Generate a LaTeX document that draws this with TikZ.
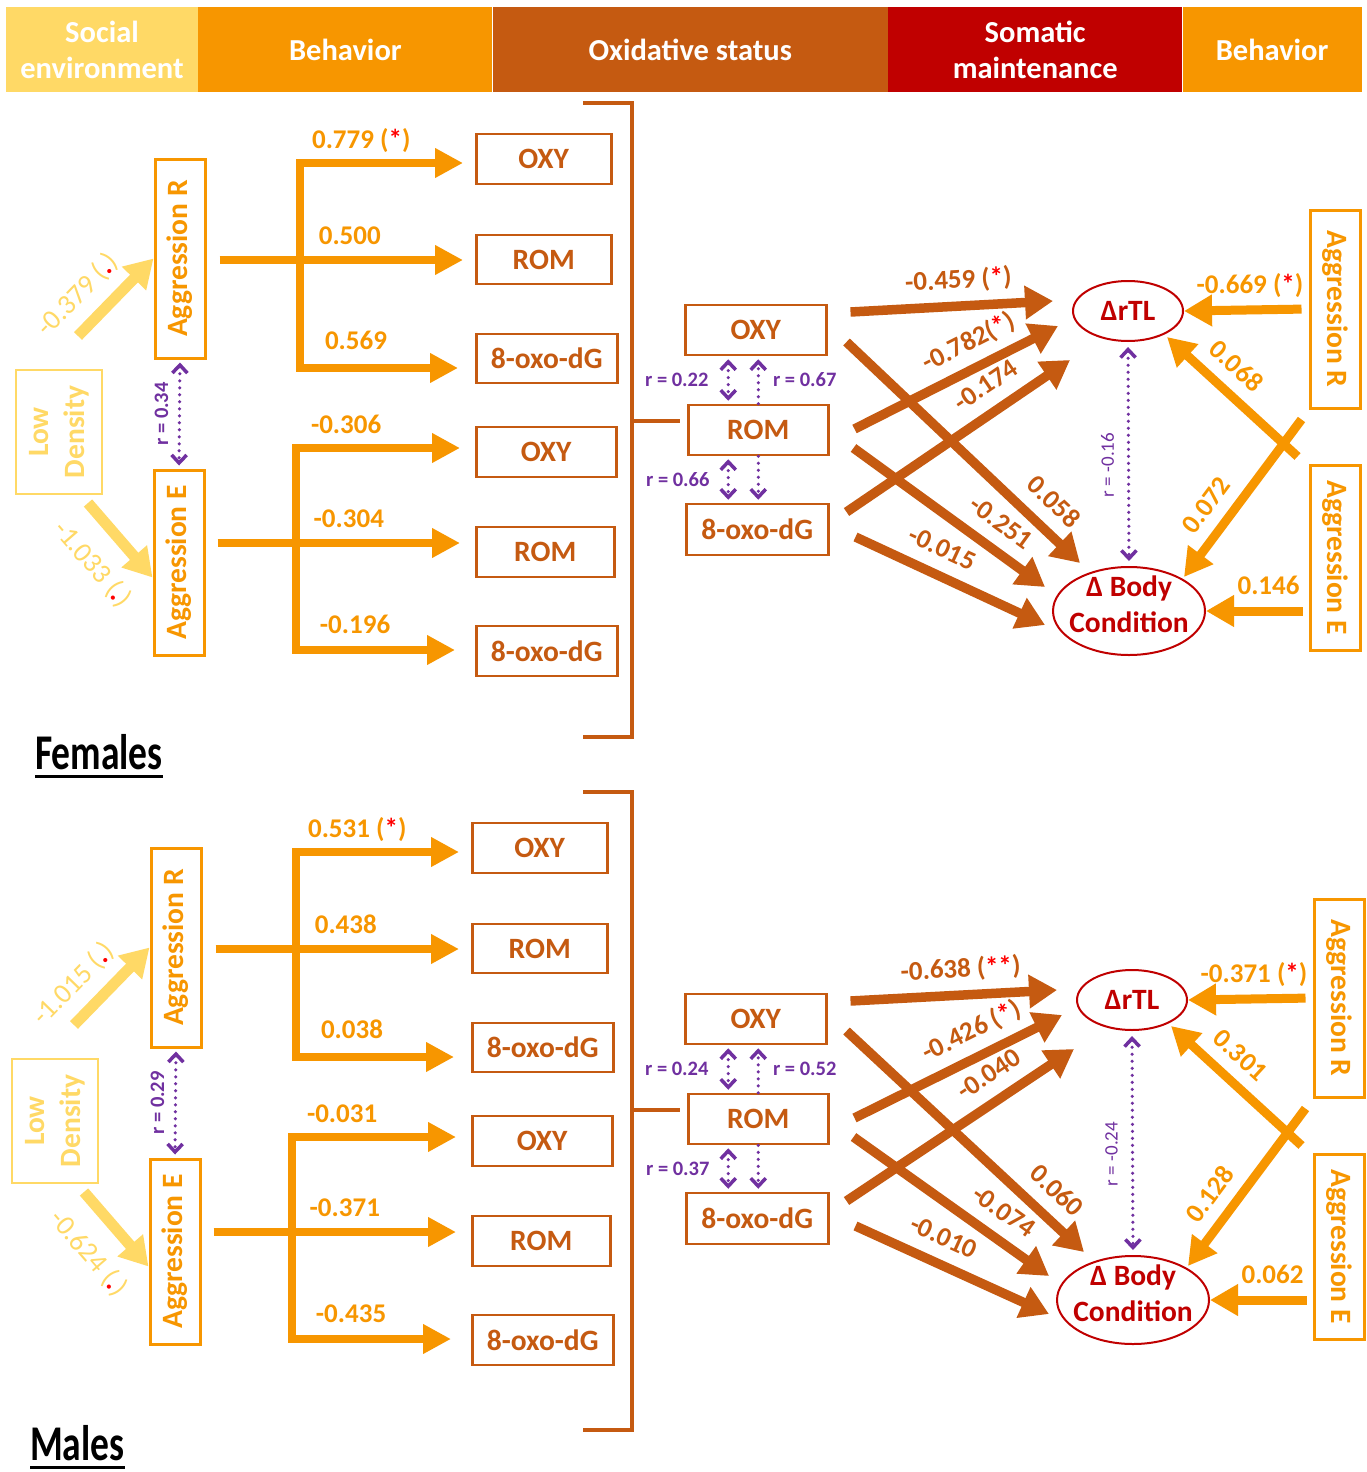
\documentclass[tikz,border=0pt]{standalone}
\usepackage{fontspec}
\setmainfont{Carlito}
\newfontfamily\condfont[FakeStretch=0.75]{Carlito}
\usepackage{graphicx}
\usepackage{tikz}
\usetikzlibrary{arrows.meta, positioning, calc, shapes.geometric}

\definecolor{socyellow}{RGB}{255, 217, 102}
\definecolor{behorange}{RGB}{247, 150, 0}
\definecolor{oxbrown}{RGB}{197, 90, 17}
\definecolor{somred}{RGB}{192, 0, 0}
\definecolor{corpurple}{RGB}{112, 48, 160}
\definecolor{sigred}{RGB}{255, 0, 0}

\newcommand{\hdrfont}{\fontsize{30.5}{36}\selectfont\bfseries}
\newcommand{\boxfont}{\fontsize{29.5}{36}\selectfont\bfseries}
\newcommand{\lblfont}{\fontsize{27}{32}\selectfont\bfseries}
\newcommand{\soclblfont}{\fontsize{28}{32}\selectfont}
\newcommand{\corfont}{\fontsize{20.5}{24}\selectfont\bfseries}
\newcommand{\sigstar}[1]{(\textcolor{sigred}{#1})}
\newcommand{\sigdot}{(\textcolor{sigred}{\textbf{.}})}
\newcommand{\vtext}[2]{\rotatebox{#1}{\begin{tabular}{@{}c@{}}#2\end{tabular}}}

\begin{document}
\begin{tikzpicture}[x=1pt, y=-1pt,
  hdr/.style={rectangle, fill=#1, text=white, font=\hdrfont, align=center, minimum height=85pt, inner sep=0pt},
  lowbox/.style={draw=socyellow, line width=2.5pt, text=socyellow, font=\boxfont, inner sep=0pt},
  behbox/.style={draw=behorange, line width=3pt, text=behorange, font=\boxfont, inner sep=0pt, minimum width=50pt},
  oxbox/.style={draw=oxbrown, line width=2.5pt, text=oxbrown, font=\boxfont, inner sep=0pt, minimum height=50pt, anchor=west, fill=white},
  somell/.style={ellipse, draw=somred, line width=2pt, text=somred, font=\boxfont, align=center, inner sep=0pt, fill=white},
  socarrow/.style={draw=socyellow, line width=11pt, -{Triangle[length=28pt, width=32pt]}},
  beharrow/.style={draw=behorange, line width=8.5pt, -{Triangle[length=28pt, width=28pt]}},
  behbranch/.style={draw=behorange, line width=8.5pt, line join=miter, {Triangle[length=28pt, width=28pt]}-{Triangle[length=28pt, width=28pt]}},
  behrarrow/.style={draw=behorange, line width=9pt, -{Triangle[length=28pt, width=30pt]}},
  oxarrow/.style={draw=oxbrown, line width=9.5pt, -{Triangle[length=28pt, width=32pt]}},
  oxline/.style={draw=oxbrown, line width=3.5pt},
  corline/.style={draw=corpurple, line width=3.5pt, line cap=round, dash pattern=on 0pt off 7pt},
  corarrow/.style={corline, {Straight Barb[length=8pt, width=15pt]}-{Straight Barb[length=8pt, width=15pt]}, shorten <=3pt, shorten >=3pt},
  corhalf/.style={corline, -{Straight Barb[length=8pt, width=15pt]}, shorten >=3pt},
  behlbl/.style={text=behorange, font=\lblfont, inner sep=2pt, text height=18pt, text depth=6pt},
  oxlbl/.style={behlbl, text=oxbrown},
  soclbl/.style={text=socyellow, font=\soclblfont, inner sep=2pt},
  corlbl/.style={text=corpurple, font=\corfont, inner sep=1pt},
  ttl/.style={font=\condfont\bfseries\fontsize{50}{60}\selectfont, inner sep=0pt, anchor=base west}
]
  \path[use as bounding box, fill=white] (0,0) rectangle (1367,1472);

  % Column headers
  \node[hdr=socyellow, minimum width=192pt] (hSoc) at (102,49.5) {Social\\environment};
  \node[hdr=behorange, minimum width=294pt, right=0pt of hSoc] (hBeh) {Behavior};
  \node[hdr=oxbrown, minimum width=395pt, right=0pt of hBeh] (hOx) {Oxidative status};
  \node[hdr=somred, minimum width=294pt, right=0pt of hOx] (hSom) {Somatic\\maintenance};
  \node[hdr=behorange, minimum width=179pt, right=0pt of hSom] (hBeh2) {Behavior};

  %% ================= Females =================
  % Social environment -> aggression
  \node[lowbox, minimum width=86pt, minimum height=124pt] (fLow) at (59,432) {\vtext{90}{Low\\Density}};
  \node[behbox, minimum height=199pt] (fAggR) at (180,258.5) {\vtext{90}{Aggression R}};
  \node[behbox, minimum height=185pt] (fAggE) at (179,562.5) {\vtext{90}{Aggression E}};
  \coordinate (fLowUp) at (78,336);
  \coordinate (fLowDn) at (88,503);
  \draw[socarrow] (fLowUp) -- (fAggR.west) node[soclbl, pos=0.27, sloped, above=9pt] (fLbLR) {-0.379 \sigdot};
  \draw[socarrow] (fLowDn) -- ($(fAggE.west)+(0,15)$) node[soclbl, pos=0.5, sloped, below=17pt] (fLbLE) {-1.033 \sigdot};
  \draw[corarrow] (fAggR.south) -- (fAggE.north);
  \node[corlbl, rotate=90] (fLbAA) at ($(fAggR.south)!0.5!(fAggE.north)+(-18,0)$) {r = 0.34};

  % Oxidative status boxes
  \node[oxbox, minimum width=135pt] (fOXY1) at (475,159) {OXY};
  \node[oxbox, minimum width=135pt, minimum height=49pt] (fROM1) at (475,259.5) {ROM};
  \node[oxbox, minimum width=141pt, minimum height=49pt] (f8oxo1) at (475,358.5) {8-oxo-dG};
  \node[oxbox, minimum width=140pt] (fOXY2) at (475,452) {OXY};
  \node[oxbox, minimum width=138pt] (fROM2) at (475,552) {ROM};
  \node[oxbox, minimum width=141pt] (f8oxo2) at (475,651) {8-oxo-dG};

  % Aggression R -> oxidative status
  \coordinate (fRmid) at ($(fAggR.east)+(13,1.5)$);
  \coordinate (fRtop) at (300,163);
  \coordinate (fRbot) at (300,368);
  \draw[beharrow, shorten >=12pt] (fRmid) -- (fRmid -| fROM1.west) node[behlbl, pos=0.51, above=3pt] (fLbR2) {0.500};
  \draw[behbranch, shorten <=12pt, shorten >=17pt] (fRtop -| fOXY1.west) -- node[behlbl, pos=0.65, above=2pt] (fLbR1) {0.779 \sigstar{*}} (fRtop) -- (fRbot) -- node[behlbl, pos=0.32, above=6pt] (fLbR3) {0.569} (fRbot -| f8oxo1.west);

  % Aggression E -> oxidative status
  \coordinate (fEmid) at ($(fAggE.east)+(12,-19.5)$);
  \coordinate (fEtop) at (296,448);
  \coordinate (fEbot) at (296,650);
  \draw[beharrow, shorten >=15pt] (fEmid) -- (fEmid -| fROM2.west) node[behlbl, pos=0.51, above=3pt] (fLbE2) {-0.304};
  \draw[behbranch, shorten <=15pt, shorten >=20pt] (fEtop -| fOXY2.west) -- node[behlbl, pos=0.72, above=2pt] (fLbE1) {-0.306} (fEtop) -- (fEbot) -- node[behlbl, pos=0.33, above=4pt] (fLbE3) {-0.196} (fEbot -| f8oxo2.west);

  % Bracket and combined oxidative status
  \draw[oxline] (583,103) -- (632,103) -- (632,737) -- (583,737);
  \coordinate (fBrMid) at (632,421);
  \node[oxbox, minimum width=141pt] (fcOXY) at (684,330) {OXY};
  \node[oxbox, minimum width=140pt] (fcROM) at (687,430) {ROM};
  \node[oxbox, minimum width=142pt, minimum height=51pt] (fc8oxo) at (685,529.5) {8-oxo-dG};
  \draw[oxline, shorten >=7pt] (fBrMid) -- (fBrMid -| fcROM.west);
  \coordinate (fcL1) at ($(fcOXY.south)+(-27.5,0)$);
  \coordinate (fcL2) at ($(fcROM.south)+(-30,0)$);
  \draw[corarrow] (fcL1) -- (fcL1 |- fcROM.north) node[corlbl, midway, left=17pt] (fLbc1) {r = 0.22};
  \draw[corarrow] (fcL2) -- (fcL2 |- fc8oxo.north) node[corlbl, midway, left=16pt] (fLbc3) {r = 0.66};
  \draw[corhalf] (fcROM.north) -- (fcROM.north |- fcOXY.south) node[corlbl, midway, right=12pt] (fLbc2) {r = 0.67};
  \draw[corhalf] (fcROM.south) -- (fcROM.south |- fc8oxo.north);

  % Somatic maintenance
  \node[somell, minimum width=110pt, minimum height=60pt] (fTL) at (1128,311) {ΔrTL};
  \node[somell, minimum width=152pt, minimum height=88pt, inner sep=-10pt] (fBody) at (1129,611) {Δ Body\\Condition\rule[-13pt]{0pt}{0pt}};
  \node[behbox, minimum height=198pt] (fAggR2) at (1335,309) {\vtext{-90}{Aggression R}};
  \node[behbox, minimum height=185pt] (fAggE2) at (1335,557.5) {\vtext{-90}{Aggression E}};

  % Oxidative status -> somatic maintenance
  \draw[oxarrow] ($(fcOXY.east)+(23,-18)$) -- ($(fTL.center)+(-75,-10)$) node[oxlbl, pos=0.54, sloped, above=5pt] (fLbO1) {-0.459 \sigstar{*}};
  \draw[oxarrow] ($(fcROM.east)+(25,-1)$) -- ($(fTL.center)+(-70,15)$) node[oxlbl, pos=0.62, sloped, above=5pt] (fLbO2) {-0.782\sigstar{*}};
  \draw[oxarrow] ($(fc8oxo.east)+(17,-17.5)$) -- ($(fTL.center)+(-58,49)$) node[oxlbl, pos=0.69, sloped, above=5pt] (fLbO3) {-0.174};
  \draw[oxarrow] ($(fcOXY.east)+(19,12)$) -- ($(fBody.center)+(-49,-48)$) node[oxlbl, pos=0.81, sloped, above=5pt] (fLbO4) {0.058};
  \draw[oxarrow] ($(fcROM.east)+(24,18)$) -- ($(fBody.center)+(-84,-24)$) node[oxlbl, pos=0.69, sloped, above=5pt] (fLbO5) {-0.251};
  \draw[oxarrow] ($(fc8oxo.east)+(26,7.5)$) -- ($(fBody.center)+(-84,14)$) node[oxlbl, pos=0.4, sloped, above=5pt] (fLbO6) {-0.015};

  % Behavior -> somatic maintenance
  \draw[behrarrow, shorten <=7pt] (fAggR2.west) -- (fTL.east) node[behlbl, pos=0.47, above=4pt] (fLbB1) {-0.669 \sigstar{*}};
  \draw[behrarrow] ($(fAggE2.north west)+(-11,-7)$) -- ($(fTL.center)+(39,26)$) node[behlbl, pos=0.6, sloped, above=4pt] (fLbB2) {0.068};
  \draw[behrarrow] ($(fAggR2.south west)+(-7,10)$) -- ($(fBody.center)+(55,-34)$) node[behlbl, pos=0.64, sloped, above=4pt] (fLbB3) {0.072};
  \draw[behrarrow, shorten <=6pt] (fAggE2.west |- fBody.center) -- (fBody.east) node[behlbl, pos=0.39, above=4pt] (fLbB4) {0.146};
  \draw[corarrow, shorten <=5pt, shorten >=5pt] (fTL.south) -- (fBody.north);
  \node[corlbl, font=\fontsize{19}{22}\selectfont, rotate=90] (fLbTB) at ($(fTL.south)!0.5!(fBody.north)+(-21,11)$) {r = -0.16};

  \node[ttl] (fTitle) at (35,769) {Females};
  \draw[line width=3pt] ($(fTitle.base west)+(0,7)$) -- ($(fTitle.base east)+(0,7)$);

  %% ================= Males =================
  \begin{scope}[shift={(0,689)}]
  \begin{scope}[xshift=-4pt]
  % Social environment -> aggression
  \node[lowbox, minimum width=86pt, minimum height=124pt] (mLow) at (59,432) {\vtext{90}{Low\\Density}};
  \node[behbox, minimum height=199pt] (mAggR) at (180,258.5) {\vtext{90}{Aggression R}};
  \node[behbox, minimum height=185pt] (mAggE) at (179,562.5) {\vtext{90}{Aggression E}};
  \coordinate (mLowUp) at (78,336);
  \coordinate (mLowDn) at (88,503);
  \draw[socarrow] (mLowUp) -- (mAggR.west) node[soclbl, pos=0.27, sloped, above=9pt] (mLbLR) {-1.015 \sigdot};
  \draw[socarrow] (mLowDn) -- ($(mAggE.west)+(0,15)$) node[soclbl, pos=0.5, sloped, below=17pt] (mLbLE) {-0.624 \sigdot};
  \draw[corarrow] (mAggR.south) -- (mAggE.north);
  \node[corlbl, rotate=90] (mLbAA) at ($(mAggR.south)!0.5!(mAggE.north)+(-18,0)$) {r = 0.29};

  % Oxidative status boxes
  \node[oxbox, minimum width=135pt] (mOXY1) at (475,159) {OXY};
  \node[oxbox, minimum width=135pt, minimum height=49pt] (mROM1) at (475,259.5) {ROM};
  \node[oxbox, minimum width=141pt, minimum height=49pt] (m8oxo1) at (475,358.5) {8-oxo-dG};
  \node[oxbox, minimum width=140pt] (mOXY2) at (475,452) {OXY};
  \node[oxbox, minimum width=138pt] (mROM2) at (475,552) {ROM};
  \node[oxbox, minimum width=141pt] (m8oxo2) at (475,651) {8-oxo-dG};

  % Aggression R -> oxidative status
  \coordinate (mRmid) at ($(mAggR.east)+(13,1.5)$);
  \coordinate (mRtop) at (300,163);
  \coordinate (mRbot) at (300,368);
  \draw[beharrow, shorten >=12pt] (mRmid) -- (mRmid -| mROM1.west) node[behlbl, pos=0.51, above=3pt] (mLbR2) {0.438};
  \draw[behbranch, shorten <=12pt, shorten >=17pt] (mRtop -| mOXY1.west) -- node[behlbl, pos=0.65, above=2pt] (mLbR1) {0.531 \sigstar{*}} (mRtop) -- (mRbot) -- node[behlbl, pos=0.32, above=6pt] (mLbR3) {0.038} (mRbot -| m8oxo1.west);

  % Aggression E -> oxidative status
  \coordinate (mEmid) at ($(mAggE.east)+(12,-19.5)$);
  \coordinate (mEtop) at (296,448);
  \coordinate (mEbot) at (296,650);
  \draw[beharrow, shorten >=15pt] (mEmid) -- (mEmid -| mROM2.west) node[behlbl, pos=0.51, above=3pt] (mLbE2) {-0.371};
  \draw[behbranch, shorten <=15pt, shorten >=20pt] (mEtop -| mOXY2.west) -- node[behlbl, pos=0.72, above=2pt] (mLbE1) {-0.031} (mEtop) -- (mEbot) -- node[behlbl, pos=0.33, above=4pt] (mLbE3) {-0.435} (mEbot -| m8oxo2.west);
  \end{scope}

  % Bracket and combined oxidative status
  \draw[oxline] (583,103) -- (632,103) -- (632,741) -- (583,741);
  \coordinate (mBrMid) at (632,421);
  \node[oxbox, minimum width=141pt] (mcOXY) at (684,330) {OXY};
  \node[oxbox, minimum width=140pt] (mcROM) at (687,430) {ROM};
  \node[oxbox, minimum width=142pt, minimum height=51pt] (mc8oxo) at (685,529.5) {8-oxo-dG};
  \draw[oxline, shorten >=7pt] (mBrMid) -- (mBrMid -| mcROM.west);
  \coordinate (mcL1) at ($(mcOXY.south)+(-27.5,0)$);
  \coordinate (mcL2) at ($(mcROM.south)+(-30,0)$);
  \draw[corarrow] (mcL1) -- (mcL1 |- mcROM.north) node[corlbl, midway, left=17pt] (mLbc1) {r = 0.24};
  \draw[corarrow] (mcL2) -- (mcL2 |- mc8oxo.north) node[corlbl, midway, left=16pt] (mLbc3) {r = 0.37};
  \draw[corhalf] (mcROM.north) -- (mcROM.north |- mcOXY.south) node[corlbl, midway, right=12pt] (mLbc2) {r = 0.52};
  \draw[corhalf] (mcROM.south) -- (mcROM.south |- mc8oxo.north);

  \begin{scope}[xshift=4pt]
  % Somatic maintenance
  \node[somell, minimum width=110pt, minimum height=60pt] (mTL) at (1128,311) {ΔrTL};
  \node[somell, minimum width=152pt, minimum height=88pt, inner sep=-10pt] (mBody) at (1129,611) {Δ Body\\Condition\rule[-13pt]{0pt}{0pt}};
  \node[behbox, minimum height=198pt] (mAggR2) at (1335,309) {\vtext{-90}{Aggression R}};
  \node[behbox, minimum height=185pt] (mAggE2) at (1335,557.5) {\vtext{-90}{Aggression E}};
  \end{scope}

  % Oxidative status -> somatic maintenance
  \draw[oxarrow] ($(mcOXY.east)+(23,-18)$) -- ($(mTL.center)+(-75,-10)$) node[oxlbl, pos=0.54, sloped, above=5pt] (mLbO1) {-0.638 \sigstar{**}};
  \draw[oxarrow] ($(mcROM.east)+(25,-1)$) -- ($(mTL.center)+(-70,15)$) node[oxlbl, pos=0.62, sloped, above=5pt] (mLbO2) {-0.426 \sigstar{*}};
  \draw[oxarrow] ($(mc8oxo.east)+(17,-17.5)$) -- ($(mTL.center)+(-58,49)$) node[oxlbl, pos=0.69, sloped, above=5pt] (mLbO3) {-0.040};
  \draw[oxarrow] ($(mcOXY.east)+(19,12)$) -- ($(mBody.center)+(-49,-48)$) node[oxlbl, pos=0.81, sloped, above=5pt] (mLbO4) {0.060};
  \draw[oxarrow] ($(mcROM.east)+(24,18)$) -- ($(mBody.center)+(-84,-24)$) node[oxlbl, pos=0.69, sloped, above=5pt] (mLbO5) {-0.074};
  \draw[oxarrow] ($(mc8oxo.east)+(26,7.5)$) -- ($(mBody.center)+(-84,14)$) node[oxlbl, pos=0.4, sloped, above=5pt] (mLbO6) {-0.010};

  % Behavior -> somatic maintenance
  \draw[behrarrow, shorten <=7pt] (mAggR2.west) -- (mTL.east) node[behlbl, pos=0.47, above=4pt] (mLbB1) {-0.371 \sigstar{*}};
  \draw[behrarrow] ($(mAggE2.north west)+(-11,-7)$) -- ($(mTL.center)+(39,26)$) node[behlbl, pos=0.6, sloped, above=4pt] (mLbB2) {0.301};
  \draw[behrarrow] ($(mAggR2.south west)+(-7,10)$) -- ($(mBody.center)+(55,-34)$) node[behlbl, pos=0.64, sloped, above=4pt] (mLbB3) {0.128};
  \draw[behrarrow, shorten <=6pt] (mAggE2.west |- mBody.center) -- (mBody.east) node[behlbl, pos=0.39, above=4pt] (mLbB4) {0.062};
  \draw[corarrow, shorten <=5pt, shorten >=5pt] (mTL.south) -- (mBody.north);
  \node[corlbl, font=\fontsize{19}{22}\selectfont, rotate=90] (mLbTB) at ($(mTL.south)!0.5!(mBody.north)+(-21,11)$) {r = -0.24};
  \end{scope}

  \node[ttl] (mTitle) at (30,1460) {Males};
  \draw[line width=3pt] ($(mTitle.base west)+(0,7)$) -- ($(mTitle.base east)+(0,7)$);
\end{tikzpicture}
\end{document}
